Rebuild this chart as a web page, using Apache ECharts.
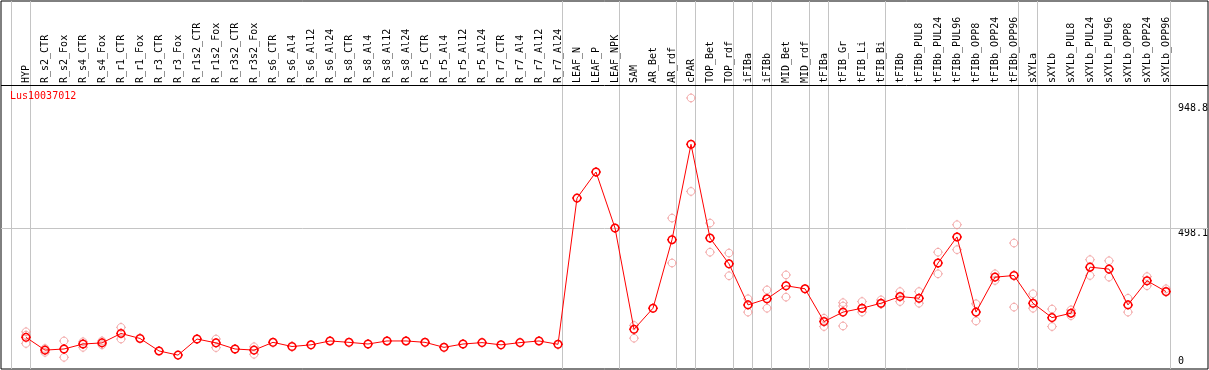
<!DOCTYPE html>
<html><head><meta charset="utf-8">
<script src="https://cdn.jsdelivr.net/npm/echarts@6/dist/echarts.min.js"></script>
<style>html,body{margin:0;padding:0;background:#fff}#c{width:1209px;height:370px}</style>
</head><body><div id="c"></div>
<script>
const chartTitle = 'Lus10037012';
const categories = ['HYP','R_s2_CTR','R_s2_Fox','R_s4_CTR','R_s4_Fox','R_r1_CTR','R_r1_Fox','R_r3_CTR','R_r3_Fox','R_r1s2_CTR','R_r1s2_Fox','R_r3s2_CTR','R_r3s2_Fox','R_s6_CTR','R_s6_Al4','R_s6_Al12','R_s6_Al24','R_s8_CTR','R_s8_Al4','R_s8_Al12','R_s8_Al24','R_r5_CTR','R_r5_Al4','R_r5_Al12','R_r5_Al24','R_r7_CTR','R_r7_Al4','R_r7_Al12','R_r7_Al24','LEAF_N','LEAF_P','LEAF_NPK','SAM','AR_Bet','AR_rdf','cPAR','TOP_Bet','TOP_rdf','iFIBa','iFIBb','MID_Bet','MID_rdf','tFIBa','tFIB_Gr','tFIB_Li','tFIB_Bi','tFIBb','tFIBb_PUL8','tFIBb_PUL24','tFIBb_PUL96','tFIBb_OPP8','tFIBb_OPP24','tFIBb_OPP96','sXYLa','sXYLb','sXYLb_PUL8','sXYLb_PUL24','sXYLb_PUL96','sXYLb_OPP8','sXYLb_OPP24','sXYLb_OPP96'];
const means = [104,58,62,80,84,118,100,55,40,98,84,62,58,86,71,77,91,86,80,91,91,86,68,80,85,77,85,91,79,606,700,498,133,209,456,800,462,369,221,243,290,279,161,195,209,227,251,245,372,466,195,321,327,227,175,191,357,350,221,308,269];
const rep1 = [124,64,91,88,91,140,null,null,null,null,98,null,70,null,null,null,null,null,null,null,null,null,null,null,null,null,null,null,null,null,null,null,147,null,534,967,516,408,243,275,329,null,173,229,233,239,269,269,411,510,225,333,444,261,206,203,384,380,245,323,279];
const rep2 = [112,50,32,68,77,98,null,null,null,null,67,null,43,null,null,null,null,null,null,null,null,null,null,null,null,null,null,null,null,null,null,null,101,null,372,630,411,326,195,209,249,null,143,217,195,224,233,227,333,420,163,309,213,209,143,182,327,321,195,290,267];
const rep3 = [82,null,null,null,null,null,null,null,null,null,null,null,null,null,null,null,null,null,null,null,null,null,null,null,null,null,null,null,null,null,null,null,null,null,null,null,null,null,null,null,null,null,null,145,null,null,null,null,null,null,null,null,null,null,null,null,null,null,null,null,null];
const groupEnds = [-1,0,28,31,34,35,37,38,39,41,42,45,52,53,60];
const yTickValues = [0, 498.1, 948.8];
const gridLineValue = 498.1;

const W = 1209, H = 370;
const slot = 19, firstPx = 26, gL = 1, gR = 1, gT = 1, gB = 1, headerY = 85;
const xMin = (gL - firstPx) / slot;
const xMax = (W - gR - firstPx) / slot;
const sepOffset = 4.5 / slot;
const font = 'DejaVu Sans Mono';
const r = 3.8, k = 2.099, t = 4.9;
const marker = 'path://M0,-' + r + 'C' + k + ',-' + r + ' ' + r + ',-' + k + ' ' + r + ',0' +
  'C' + r + ',' + k + ' ' + k + ',' + r + ' 0,' + r +
  'C-' + k + ',' + r + ' -' + r + ',' + k + ' -' + r + ',0' +
  'C-' + r + ',-' + k + ' -' + k + ',-' + r + ' 0,-' + r + 'Z' +
  'M0,-' + t + 'L0,-' + r + 'M0,' + r + 'L0,' + t + 'M-' + t + ',0L-' + r + ',0M' + r + ',0L' + t + ',0';
const markerSize = 2 * t;

const meanData = means.map((v, i) => [i, v]);
const repData = [];
[rep1, rep2, rep3].forEach(a => a.forEach((v, i) => { if (v != null) repData.push([i, v]); }));
const markData = groupEnds.map(i => ({ xAxis: i + sepOffset }));
markData.push({ yAxis: gridLineValue });

const chart = echarts.init(document.getElementById('c'));
chart.setOption({
  animation: false,
  backgroundColor: '#fff',
  title: { text: chartTitle, left: 10, top: 91, padding: 0,
    textStyle: { color: '#ff0000', fontFamily: font, fontSize: 10, fontWeight: 'normal' } },
  grid: { left: gL, right: gR, top: gT, bottom: gB, show: true, borderColor: '#000', borderWidth: 1,
    backgroundColor: 'transparent', outerBoundsMode: 'none' },
  graphic: [{ type: 'line', z: 10, silent: true,
    shape: { x1: gL, y1: headerY + 0.5, x2: W - gR, y2: headerY + 0.5 },
    style: { stroke: '#000', lineWidth: 1 } }],
  xAxis: {
    type: 'value', min: xMin, max: xMax, position: 'bottom',
    offset: headerY - (H - gB),
    axisLine: { show: false, onZero: false },
    axisTick: { show: false }, splitLine: { show: false },
    axisLabel: { inside: true, rotate: 90, margin: 2, customValues: categories.map((c, i) => i),
      formatter: v => categories[Math.round(v)] || '', fontFamily: font, fontSize: 10, color: '#000' }
  },
  yAxis: {
    type: 'value', min: -10.1, max: 1316.5, position: 'right',
    axisLine: { show: false }, axisTick: { show: false }, splitLine: { show: false },
    axisLabel: { inside: true, align: 'left', margin: 30, customValues: yTickValues,
      formatter: v => v === 0 ? '0\n' : '\n' + v, lineHeight: 10,
      fontFamily: font, fontSize: 10, color: '#000' }
  },
  series: [
    { type: 'scatter', data: repData, z: 2, symbol: marker, symbolSize: markerSize, symbolKeepAspect: true,
      itemStyle: { color: 'rgba(0,0,0,0)', borderColor: '#f09494', borderWidth: 1 },
      emphasis: { disabled: true },
      markLine: { silent: true, z: 1, symbol: ['none', 'none'], label: { show: false },
        lineStyle: { color: '#c4c4c4', width: 1, type: 'solid' }, emphasis: { disabled: true },
        data: markData } },
    { type: 'line', data: meanData, z: 3, symbol: marker, symbolSize: markerSize, symbolKeepAspect: true,
      showAllSymbol: true,
      lineStyle: { color: '#ff0000', width: 1 },
      itemStyle: { color: 'rgba(0,0,0,0)', borderColor: '#ff0000', borderWidth: 1.5 },
      emphasis: { disabled: true } }
  ]
});
</script></body></html>
